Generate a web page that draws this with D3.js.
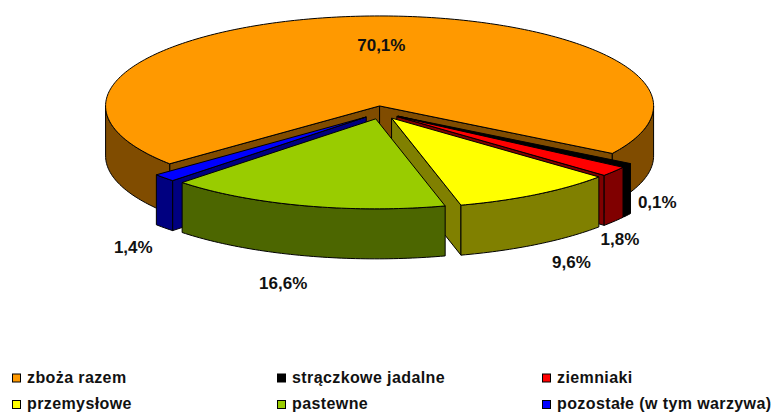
<!DOCTYPE html>
<html>
<head>
<meta charset="utf-8">
<script src="https://cdn.jsdelivr.net/npm/d3@7"></script>
<style>
  body { margin: 0; background: #fff; }
  text { font-family: "Liberation Sans", Arial, sans-serif; }
</style>
</head>
<body>
<div id="chart"></div>
<script>
// data
const categories = ["zboża razem", "strączkowe jadalne", "ziemniaki", "przemysłowe", "pastewne", "pozostałe (w tym warzywa)"];
const values = [70.1, 0.1, 1.8, 9.6, 16.6, 1.4];
const labels = ["70,1%", "0,1%", "1,8%", "9,6%", "16,6%", "1,4%"];
const topColors = ["#ff9900", "#000000", "#ff0000", "#ffff00", "#99cc00", "#0000ff"];
const sideColors = ["#804c00", "#000000", "#800000", "#808000", "#4c6600", "#000080"];

const width = 771, height = 412;
const cx = 381, cy = 112.5;      // pie centre on screen
const rx = 274, ry = 90;         // flattened radius
const depth = 50;                // thickness of the pie
const explode = 20;              // offset of each slice along its bisector
const k = ry / rx;
const deg = Math.PI / 180;
const firstAngle = 230;
const minShare = 0.7;            // tiny slices are drawn at least this wide

// label nudges from the slice's outer-bottom anchor
const labelNudge = [[0, 0], [30, -13], [6, 18], [35, 18], [-21, 27], [-31, 19]];

d3.select("#chart").selectAll("*").remove();

const svg = d3.select("#chart")
    .append("svg")
    .attr("width", width)
    .attr("height", height);

const pie = d3.pie()
    .sort(null)
    .value(d => Math.max(d, minShare))
    .startAngle(firstAngle * deg)
    .endAngle((firstAngle + 360) * deg);

const arcs = pie(values).map((a, i) => {
    const mid = (a.startAngle + a.endAngle) / 2;
    return {
        i: i,
        s: a.startAngle,
        e: a.endAngle,
        mid: mid,
        c: [cx + explode * Math.sin(mid), cy - explode * Math.cos(mid) * k]
    };
});

function pt(c, a, dz) {
    return [c[0] + rx * Math.sin(a), c[1] - rx * Math.cos(a) * k + (dz || 0)];
}

function arcPoints(c, a0, a1, dz) {
    const n = Math.max(2, Math.ceil(Math.abs(a1 - a0) / (1 * deg)));
    return d3.range(n + 1).map(j => pt(c, a0 + (a1 - a0) * j / n, dz));
}

const line = d3.line().curve(d3.curveLinearClosed);

// draw back to front
const order = arcs.slice().sort((a, b) => a.c[1] - b.c[1]);

order.forEach(d => {
    const g = svg.append("g");
    const c = d.c;
    const cBottom = [c[0], c[1] + depth];

    // radial faces
    const faces = [];
    if (Math.sin(d.s) < 0) faces.push(d.s);
    if (Math.sin(d.e) > 0) faces.push(d.e);
    faces.forEach(a => {
        const p = pt(c, a);
        g.append("path")
            .attr("d", line([c, p, [p[0], p[1] + depth], cBottom]))
            .attr("fill", sideColors[d.i])
            .attr("stroke", "#000")
            .attr("stroke-width", 1)
            .attr("stroke-linejoin", "round");
    });

    // outer wall, only the part turned to the viewer
    for (let n = -1; n <= 2; n++) {
        const lo = Math.max(d.s, (90 + 360 * n) * deg);
        const hi = Math.min(d.e, (270 + 360 * n) * deg);
        if (lo < hi) {
            const pts = arcPoints(c, lo, hi, 0).concat(arcPoints(c, hi, lo, depth));
            g.append("path")
                .attr("d", line(pts))
                .attr("fill", sideColors[d.i])
                .attr("stroke", "#000")
                .attr("stroke-width", 1)
                .attr("stroke-linejoin", "round");
        }
    }

    // top face
    g.append("path")
        .attr("d", line([c].concat(arcPoints(c, d.s, d.e, 0))))
        .attr("fill", topColors[d.i])
        .attr("stroke", "#000")
        .attr("stroke-width", 1)
        .attr("stroke-linejoin", "round");
});

// data labels
arcs.forEach(d => {
    let x, y;
    if (d.i === 0) {
        // big slice: label inside, on the upper part of the top face
        const p = pt(d.c, d.mid);
        x = d.c[0] + (p[0] - d.c[0]) * 0.68 + 15;
        y = d.c[1] + (p[1] - d.c[1]) * 0.68;
    } else {
        const p = pt(d.c, d.mid, depth);
        x = p[0] + labelNudge[d.i][0];
        y = p[1] + labelNudge[d.i][1];
    }
    svg.append("text")
        .attr("x", x)
        .attr("y", y)
        .attr("dy", "0.35em")
        .attr("text-anchor", "middle")
        .style("font-size", "17px")
        .style("font-weight", "bold")
        .style("fill", "#111")
        .text(labels[d.i]);
});

// legend
const legend = svg.append("g").attr("transform", "translate(12, 374)");
categories.forEach((name, i) => {
    const col = i % 3, row = Math.floor(i / 3);
    const item = legend.append("g")
        .attr("transform", `translate(${col * 265}, ${row * 26.5})`);
    item.append("rect")
        .attr("x", 0.5)
        .attr("y", 0)
        .attr("width", 8)
        .attr("height", 8)
        .attr("fill", topColors[i])
        .attr("stroke", "#000")
        .attr("stroke-width", 1);
    item.append("text")
        .attr("x", 15)
        .attr("y", 8.5)
        .style("font-size", "16px")
        .style("font-weight", "bold")
        .style("letter-spacing", "0.4px")
        .style("fill", "#111")
        .text(name);
});
</script>
</body>
</html>
